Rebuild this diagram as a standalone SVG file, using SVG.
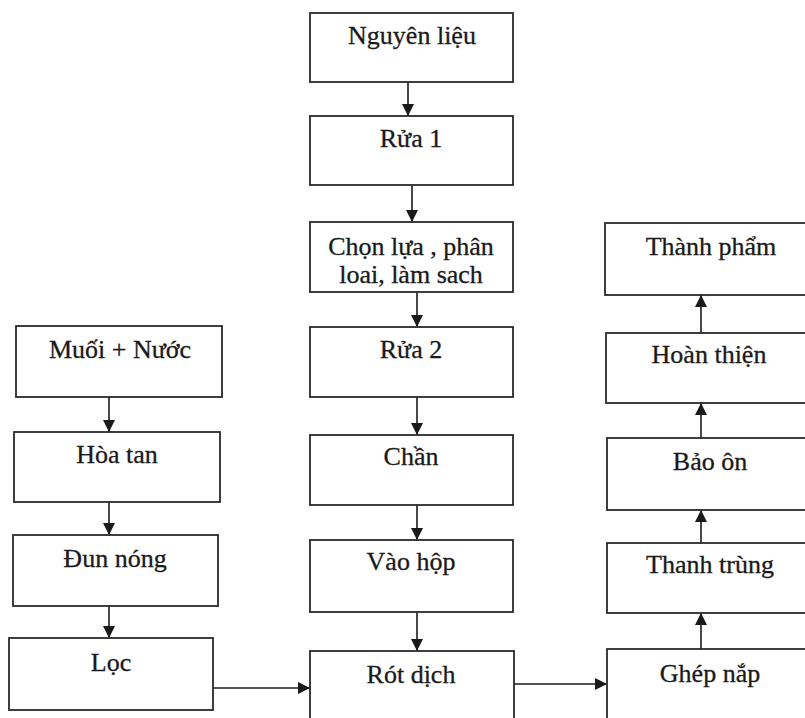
<svg xmlns="http://www.w3.org/2000/svg" width="805" height="718" viewBox="0 0 805 718">
<defs>
<marker id="ah" markerUnits="userSpaceOnUse" markerWidth="12" markerHeight="12" viewBox="0 0 12 12" refX="12" refY="6" orient="auto">
<path d="M0,0 L12,6 L0,12 Z" fill="#1a1a1a"/>
</marker>
<style>
.box{fill:#fff;stroke:#2a2a2a;stroke-width:1.8}
.lbl{font-family:"Liberation Serif","Times New Roman",serif;font-size:26px;fill:#1a1a1a;stroke:#1a1a1a;stroke-width:0.3;text-anchor:middle}
.con{stroke:#1a1a1a;stroke-width:1.6;fill:none;marker-end:url(#ah)}
</style>
</defs>
<rect width="805" height="718" fill="#fff"/>
<g id="connectors">
<line class="con" x1="408" y1="82" x2="408" y2="116"/>
<line class="con" x1="412" y1="185" x2="412" y2="222"/>
<line class="con" x1="417" y1="292" x2="417" y2="327"/>
<line class="con" x1="417" y1="397" x2="417" y2="435"/>
<line class="con" x1="417" y1="505" x2="417" y2="540"/>
<line class="con" x1="417" y1="612" x2="417" y2="651"/>
<line class="con" x1="109" y1="397" x2="109" y2="432"/>
<line class="con" x1="109" y1="502" x2="109" y2="535"/>
<line class="con" x1="109" y1="606" x2="109" y2="638"/>
<line class="con" x1="213" y1="688" x2="310" y2="688"/>
<line class="con" x1="514" y1="684" x2="607" y2="684"/>
<line class="con" x1="701" y1="649" x2="701" y2="613"/>
<line class="con" x1="701" y1="543" x2="701" y2="510"/>
<line class="con" x1="701" y1="438" x2="701" y2="403"/>
<line class="con" x1="701" y1="333" x2="701" y2="295"/>
</g>
<g id="nguyen-lieu"><rect class="box" x="310" y="13" width="203" height="69"/><text class="lbl" x="412" y="44">Nguyên liệu</text></g>
<g id="rua-1"><rect class="box" x="310" y="116" width="203" height="69"/><text class="lbl" x="411" y="147">Rửa 1</text></g>
<g id="chon-lua"><rect class="box" x="310" y="222" width="203" height="70"/><text class="lbl" x="411" y="255">Chọn lựa , phân</text><text class="lbl" x="411" y="283">loai, làm sach</text></g>
<g id="rua-2"><rect class="box" x="310" y="327" width="203" height="70"/><text class="lbl" x="411" y="358">Rửa 2</text></g>
<g id="chan"><rect class="box" x="310" y="435" width="203" height="70"/><text class="lbl" x="411" y="465">Chần</text></g>
<g id="vao-hop"><rect class="box" x="310" y="540" width="203" height="72"/><text class="lbl" x="411" y="570">Vào hộp</text></g>
<g id="rot-dich"><rect class="box" x="310" y="651" width="204" height="80"/><text class="lbl" x="411" y="683">Rót dịch</text></g>
<g id="muoi-nuoc"><rect class="box" x="16" y="326" width="206" height="71"/><text class="lbl" x="120" y="358">Muối + Nước</text></g>
<g id="hoa-tan"><rect class="box" x="14" y="432" width="206" height="70"/><text class="lbl" x="117" y="463">Hòa tan</text></g>
<g id="dun-nong"><rect class="box" x="13" y="535" width="205" height="71"/><text class="lbl" x="115" y="567">Đun nóng</text></g>
<g id="loc"><rect class="box" x="9" y="638" width="204" height="72"/><text class="lbl" x="111" y="671">Lọc</text></g>
<g id="thanh-pham"><rect class="box" x="605" y="223" width="212" height="72"/><text class="lbl" x="711" y="255">Thành phẩm</text></g>
<g id="hoan-thien"><rect class="box" x="606" y="333" width="212" height="70"/><text class="lbl" x="709" y="363">Hoàn thiện</text></g>
<g id="bao-on"><rect class="box" x="607" y="438" width="212" height="72"/><text class="lbl" x="710" y="470">Bảo ôn</text></g>
<g id="thanh-trung"><rect class="box" x="607" y="543" width="212" height="70"/><text class="lbl" x="710" y="573">Thanh trùng</text></g>
<g id="ghep-nap"><rect class="box" x="607" y="649" width="212" height="80"/><text class="lbl" x="710" y="682">Ghép nắp</text></g>
</svg>
